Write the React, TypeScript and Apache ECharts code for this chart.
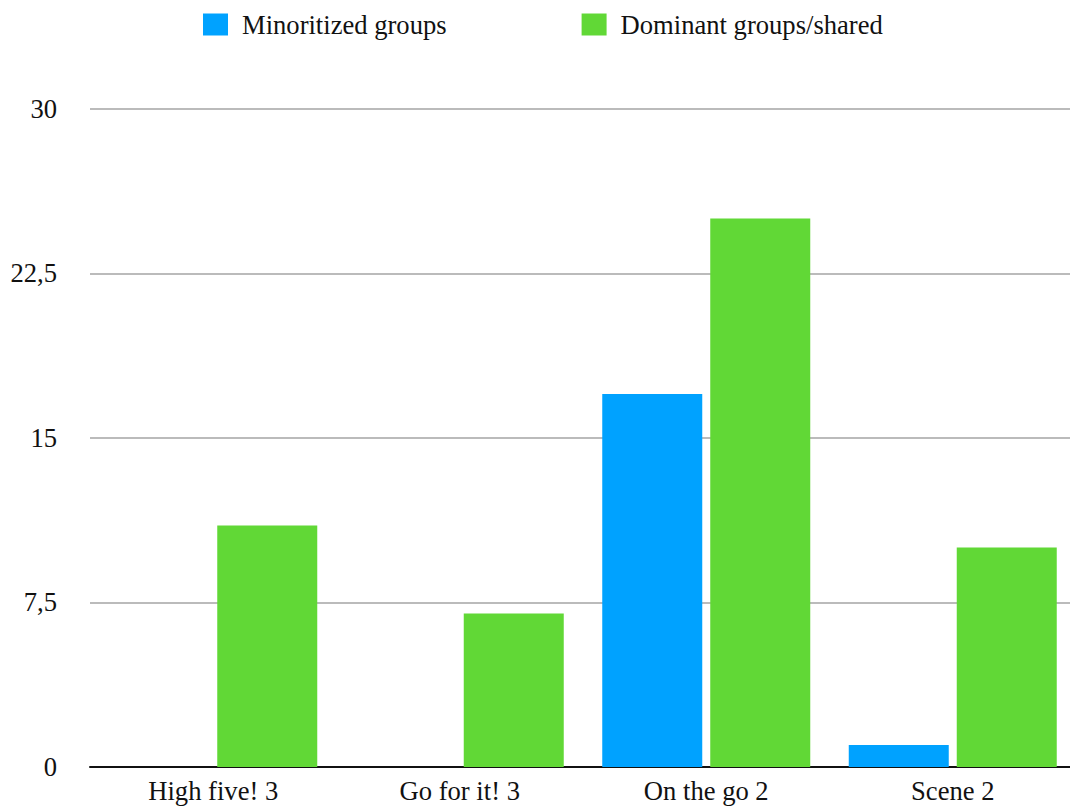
import React, { useEffect, useRef } from "react";
import * as echarts from "echarts";

const categories = ["High five! 3", "Go for it! 3", "On the go 2", "Scene 2"];
const minoritized = [0, 0, 17, 1];
const dominant = [11, 7, 25, 10];
const seriesNames = ["Minoritized groups", "Dominant groups/shared"];
const colors = ["#00a2ff", "#61d836"];

const FONT = "'Liberation Serif', 'Times New Roman', serif";

export default function App() {
  const ref = useRef<HTMLDivElement>(null);
  useEffect(() => {
    if (!ref.current) return;
    const chart = echarts.init(ref.current, undefined, { renderer: "svg" });
    chart.setOption({
      animation: false,
      textStyle: { fontFamily: FONT },
      legend: {
        left: 198,
        top: 6,
        itemWidth: 25,
        itemHeight: 22,
        itemGap: 135,
        icon: "rect",
        textStyle: { fontFamily: FONT, fontSize: 26.6, color: "#111", padding: [0, 0, 0, 9] },
        data: seriesNames,
      },
      grid: { left: 90, right: 0, top: 108.7, height: 658.3, containLabel: false },
      xAxis: {
        type: "category",
        data: categories,
        axisTick: { show: false },
        axisLine: { lineStyle: { color: "#111", width: 2 } },
        axisLabel: { fontFamily: FONT, fontSize: 26.6, color: "#111", margin: 10 },
      },
      yAxis: {
        type: "value",
        min: 0,
        max: 30,
        interval: 7.5,
        axisLine: { show: false },
        axisTick: { show: false },
        splitLine: { lineStyle: { color: "#bbbbbb", width: 2 } },
        axisLabel: {
          fontFamily: FONT,
          fontSize: 26.6,
          color: "#111",
          margin: 33,
          formatter: (v: number) => String(v).replace(".", ","),
        },
      },
      series: [
        {
          name: seriesNames[0],
          type: "bar",
          data: minoritized,
          barWidth: 100,
          barGap: "8%",
          itemStyle: { color: colors[0] },
        },
        {
          name: seriesNames[1],
          type: "bar",
          data: dominant,
          barWidth: 100,
          barGap: "8%",
          itemStyle: { color: colors[1] },
        },
      ],
    });
    return () => chart.dispose();
  }, []);
  return (
    <div
      ref={ref}
      style={{ position: "fixed", left: 0, top: 0, width: 1076, height: 807, background: "#fff" }}
    />
  );
}
